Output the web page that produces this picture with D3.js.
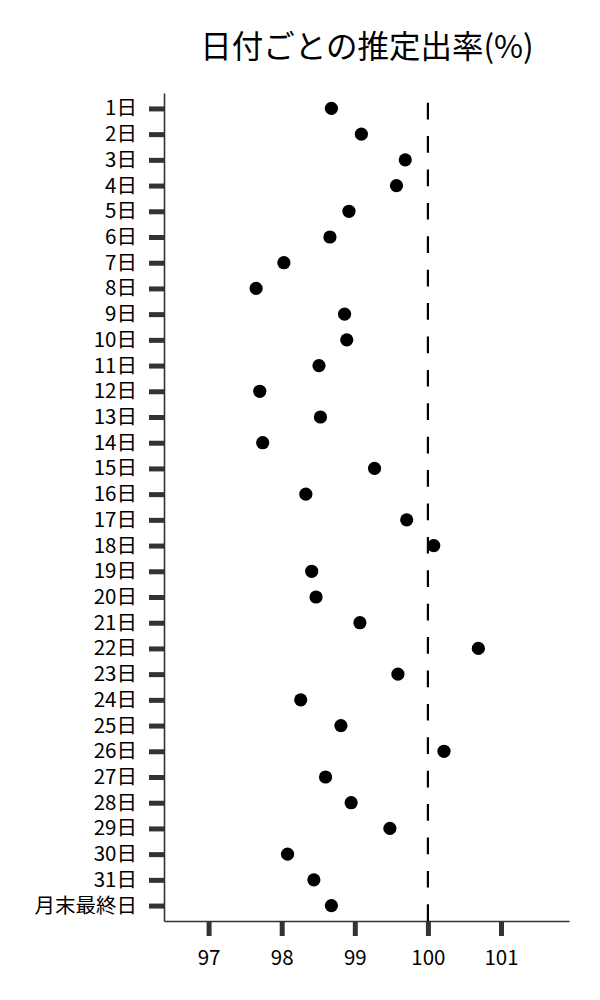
<!DOCTYPE html>
<html>
<head>
<meta charset="utf-8">
<script src="https://cdn.jsdelivr.net/npm/d3@7"></script>
<style>
  body { margin: 0; background: #fff; }
  text { font-family: "Noto Sans CJK JP", "Noto Sans", sans-serif; }
</style>
</head>
<body>
<svg width="600" height="1000"></svg>
<script>
// labels for each row (top to bottom)
const days = ['1日', '2日', '3日', '4日', '5日', '6日', '7日', '8日', '9日', '10日',
    '11日', '12日', '13日', '14日', '15日', '16日', '17日', '18日', '19日', '20日',
    '21日', '22日', '23日', '24日', '25日', '26日', '27日', '28日', '29日', '30日',
    '31日', '月末最終日'];

// estimated rate (%) per row
const rates = [98.68, 99.09, 99.69, 99.57, 98.92, 98.66, 98.03, 97.65, 98.86, 98.89,
    98.51, 97.70, 98.53, 97.74, 99.27, 98.33, 99.71, 100.08, 98.41, 98.47,
    99.07, 100.69, 99.59, 98.26, 98.81, 100.22, 98.60, 98.95, 99.48, 98.08,
    98.44, 98.68];

const xTicks = [97, 98, 99, 100, 101];
const refValue = 100;
const title = '日付ごとの推定出率(%)';

let svg = d3.select('svg');
let svgWidth = +svg.attr('width');
let svgHeight = +svg.attr('height');

let padding = {t: 93, r: 31, b: 79, l: 164};
let chartWidth = svgWidth - padding.l - padding.r;
let chartHeight = svgHeight - padding.t - padding.b;

let chartG = svg.append('g')
    .attr('transform', 'translate(' + [padding.l, padding.t] + ')');

let xScale = d3.scaleLinear()
    .domain([96.39, 101.93])
    .range([0, chartWidth]);

let yScale = d3.scalePoint()
    .domain(days)
    .range([0, chartHeight])
    .padding(0.6);

// title
svg.append('text')
    .attr('x', 367)
    .attr('y', 58)
    .attr('text-anchor', 'middle')
    .style('font-size', '31.5px')
    .attr('fill', '#000')
    .text(title);

// x axis
let xAxis = chartG.append('g')
    .attr('transform', 'translate(0,' + chartHeight + ')')
    .call(d3.axisBottom(xScale).tickValues(xTicks).tickFormat(d3.format('d'))
        .tickSize(15).tickSizeOuter(0).tickPadding(14));

// y axis
let yAxis = chartG.append('g')
    .call(d3.axisLeft(yScale).tickSize(15).tickSizeOuter(0).tickPadding(12));

[xAxis, yAxis].forEach(function(ax) {
    ax.select('.domain').attr('stroke', '#333').attr('stroke-width', 1.6);
    ax.selectAll('.tick line').attr('stroke', '#333').attr('stroke-width', 5);
    ax.selectAll('.tick text').attr('fill', '#000').style('font-size', '20.5px')
        .style('font-family', '"Noto Sans CJK JP", "Noto Sans", sans-serif');
});

// reference line at 100, drawn from the bottom up
chartG.append('line')
    .attr('x1', xScale(refValue))
    .attr('x2', xScale(refValue))
    .attr('y1', chartHeight)
    .attr('y2', 0)
    .attr('stroke', '#000')
    .attr('stroke-width', 2.2)
    .attr('stroke-dasharray', '16.7,16.7');

// dots
chartG.selectAll('circle.dot')
    .data(rates)
    .enter()
    .append('circle')
    .attr('class', 'dot')
    .attr('cx', d => xScale(d))
    .attr('cy', (d, i) => yScale(days[i]))
    .attr('r', 6.6)
    .attr('fill', '#000');
</script>
</body>
</html>
